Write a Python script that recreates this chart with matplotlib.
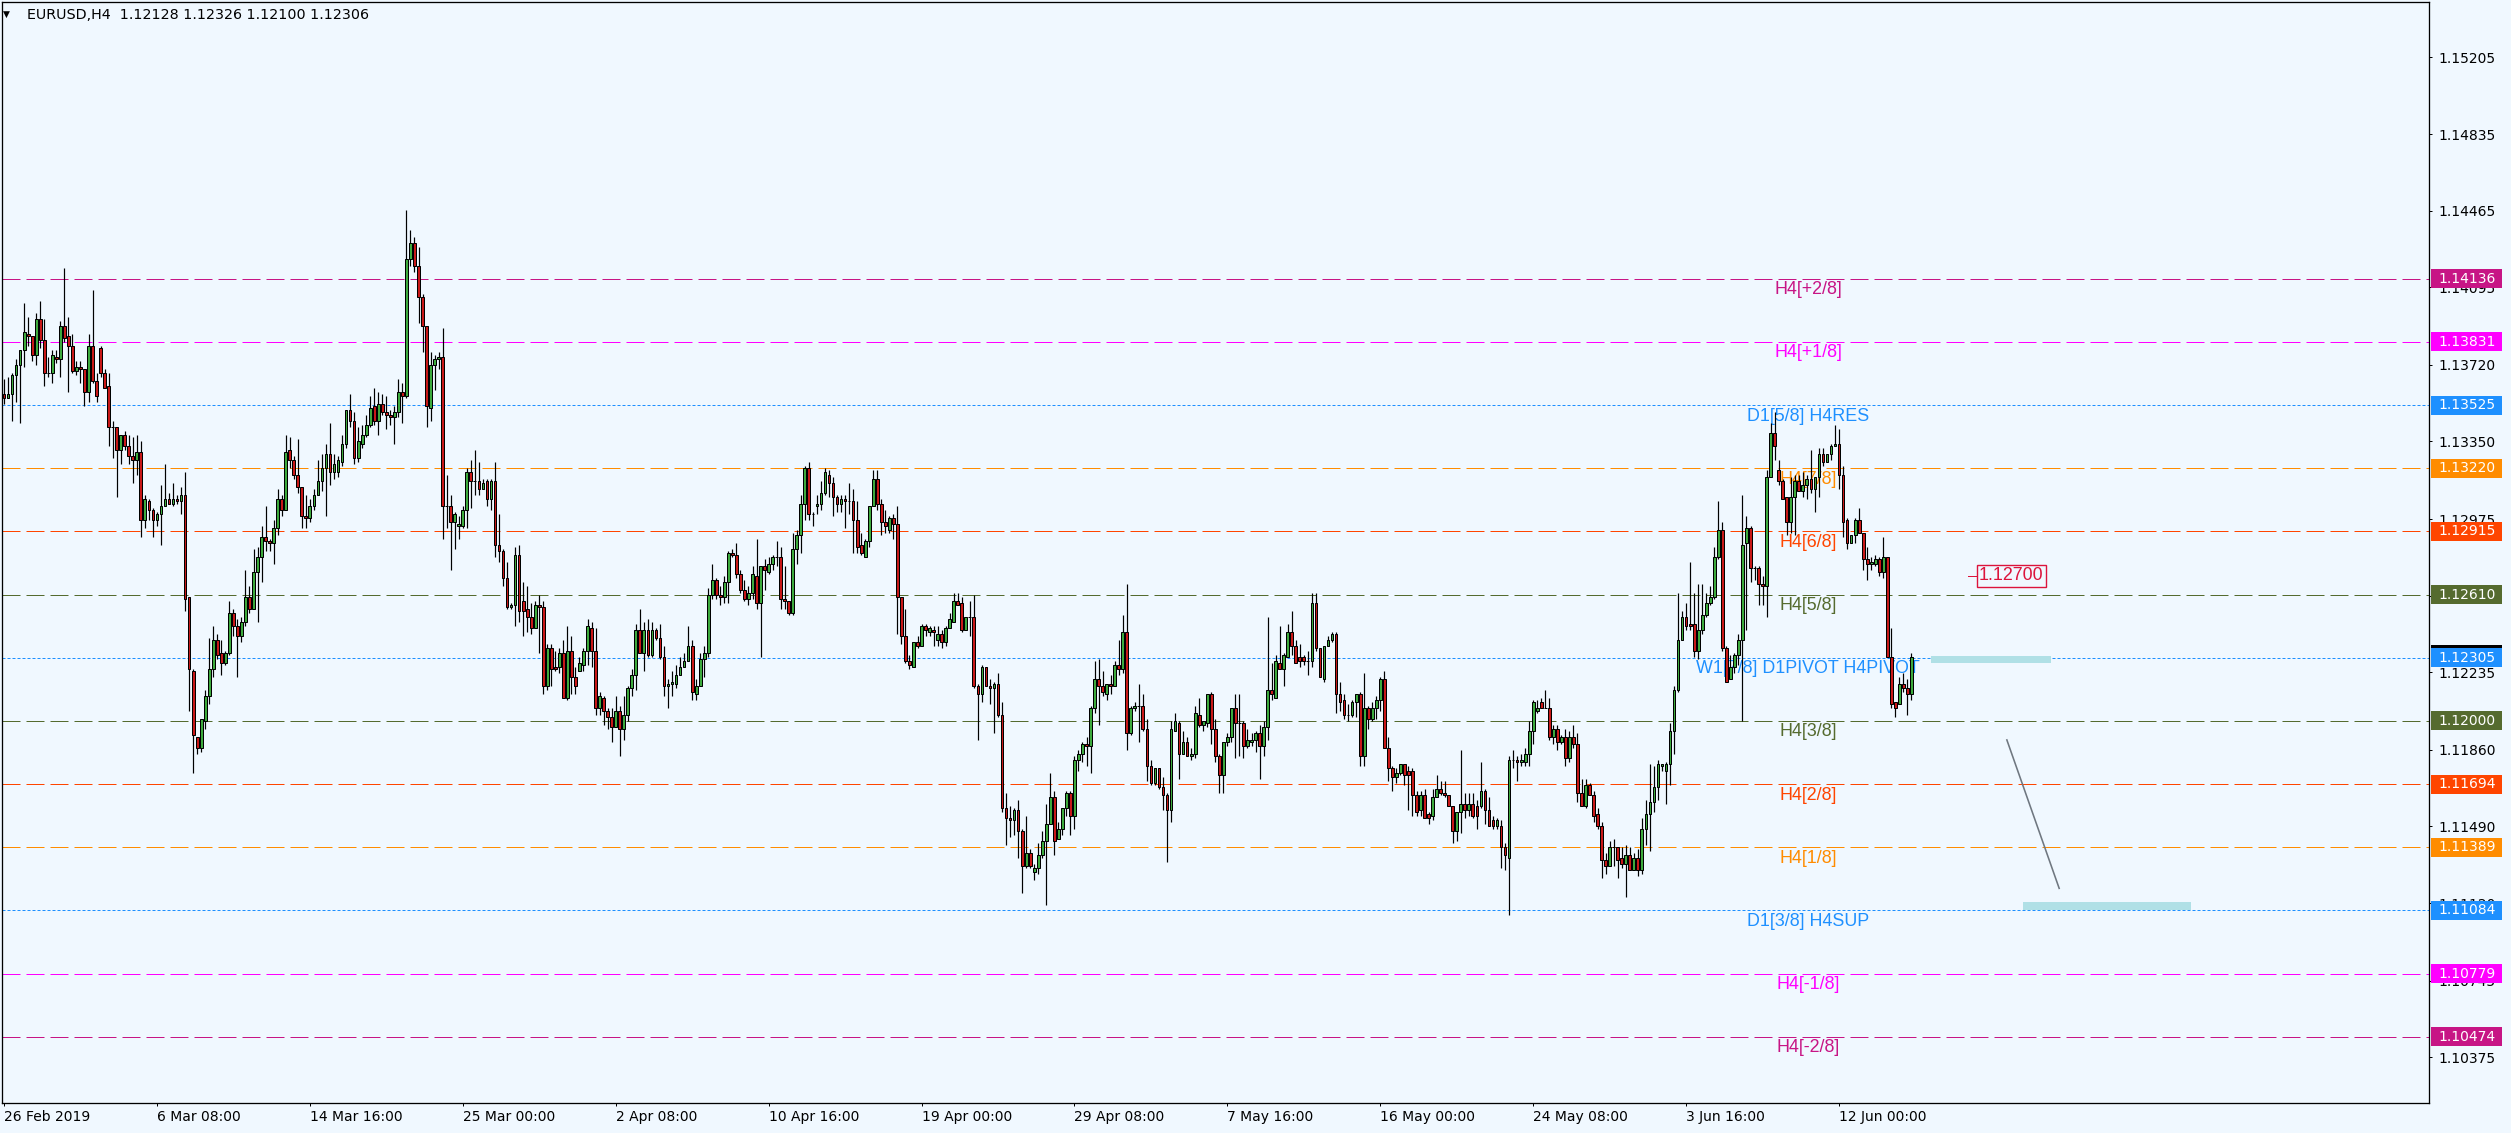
import numpy as np
import matplotlib.pyplot as plt
from matplotlib.patches import Rectangle
from matplotlib.transforms import blended_transform_factory

# H4 candles, values are pips above 1.1000
opens = [
    358, 356, 358, 367, 372, 379, 387, 386, 377, 394, 384, 368, 368, 376, 375, 391, 386, 381, 369, 371,
    370, 359, 381, 364, 380, 368, 362, 342, 342, 331, 338, 333, 328, 326, 330, 297, 306, 302, 297, 300,
    304, 307, 305, 307, 306, 309, 260, 224, 192, 187, 200, 212, 225, 239, 233, 228, 233, 252, 246, 241,
    248, 260, 254, 272, 279, 289,
    287, 286, 293, 307, 302, 331, 326, 319, 313, 299, 298, 304, 309,
    316, 322, 329, 320, 320, 325, 334, 350, 345, 327, 334, 338, 343, 352, 345, 353, 349, 348, 347, 349,
    359, 357, 423, 431, 420, 405, 391, 351, 372, 375, 376, 304, 304, 296, 294, 294, 302, 320, 316, 316,
    312, 316, 307, 316, 285, 282, 269, 255, 256, 280, 258, 254, 250, 245, 256, 255, 217, 235, 226, 226,
    233, 211, 234, 221, 224, 227, 234, 245, 234, 206, 211, 205, 202, 197, 205, 196, 203, 216, 222, 244,
    233, 244, 232, 244, 240, 231, 217, 218, 218, 222, 226, 229, 236,
    213, 217, 230, 233, 261, 268,
    261, 260, 267, 281, 280, 271, 263, 259, 262, 270, 257, 275, 272, 276, 279, 279, 259, 258, 252, 283,
    290, 305, 322, 300, 304, 305, 310, 319, 315, 308, 305, 307, 306, 306, 297, 285, 279, 287, 304, 317,
    305, 296, 292, 298, 295, 260, 241, 229, 226, 238, 236, 246, 243, 244, 239, 242, 238, 245, 248, 258,
    257, 244, 250, 250, 217, 213, 226, 217, 216, 218, 203, 158, 153, 152, 157, 147, 130, 136, 127, 129,
    135, 142, 150, 163, 143, 148, 158, 165, 154, 181, 184, 189, 188, 206, 220, 217, 213, 218, 217, 227,
    225, 243, 194, 206, 207, 207, 196, 178, 170, 177, 168, 164, 157, 195, 199, 184, 190, 183, 184, 203,
    198, 199, 213, 196, 183, 174, 190, 192, 206, 199, 199, 188, 190, 191, 194, 188, 197, 215, 211, 228,
    225, 231, 243, 236, 231, 231, 229, 229, 257, 235, 220, 236, 239, 242, 213, 210, 203, 203, 209, 213,
    183, 206, 201, 206, 210, 220, 187, 177, 173, 175, 179, 176, 176, 164, 157, 164, 155, 154, 163, 167,
    165, 164, 159, 147, 156, 160, 157, 160, 159, 159, 166, 157, 152, 149, 149, 139, 134, 181, 181, 180,
    180, 184, 195, 205, 209, 206, 206, 192, 196,
    190, 192, 182, 192, 189, 165, 159, 169, 164, 155,
    149, 133, 130, 139, 139, 134, 131, 135, 128, 134, 128, 148, 155, 161, 168, 178, 176, 179, 195, 215,
    239, 250, 247, 247, 234, 244, 251, 257, 260, 279, 292, 235, 220, 226, 232, 239, 286, 293, 274, 274,
    266, 265, 318, 339, 321, 316, 308, 296, 308, 316, 311, 314, 317, 312, 318, 329, 325, 329, 333, 334,
    319, 297, 286, 290, 297, 291, 278, 276, 276, 278, 272, 279, 231, 209, 208, 218, 216, 213,
]
highs = [
    365, 366, 368, 375, 379, 402, 395, 386, 397, 403, 394, 376, 379, 379, 393, 419, 395, 387, 374, 374,
    370, 387, 408, 368, 381, 370, 368, 345, 342, 338, 340, 338, 337, 338, 335, 309, 307, 303, 301, 314,
    324, 310, 315, 309, 313, 320, 260, 225, 192, 201, 215, 240, 246, 242, 239, 234, 258, 254, 249, 250,
    273, 265, 283, 284, 294, 304,
    288, 297, 312, 309, 338, 337, 328, 336, 313, 309, 307, 312, 326,
    329, 334, 344, 329, 328, 338, 350, 358, 349, 342, 343, 348, 357, 361, 359, 358, 357, 350, 352, 365,
    363, 447, 437, 434, 429, 406, 391, 378, 377, 378, 390, 319, 309, 301, 299, 304, 322, 326, 331, 325,
    317, 317, 317, 325, 300, 283, 277, 257, 284, 285, 267, 265, 257, 258, 261, 258, 237, 237, 234, 235,
    239, 246, 241, 226, 231, 235, 249, 248, 245, 214, 212, 206, 206, 212, 207, 212, 217, 225, 247, 254,
    248, 249, 248, 245, 247, 236, 220, 224, 227, 231, 233, 246, 239,
    220, 233, 236, 264, 276, 269,
    265, 270, 282, 283, 286, 273, 268, 265, 275, 288, 275, 278, 279, 280, 287, 284, 275, 258, 291, 292,
    309, 323, 325, 301, 309, 316, 322, 321, 318, 309, 309, 309, 315, 312, 306, 291, 288, 304, 321, 321,
    307, 302, 299, 300, 304, 260, 254, 232, 238, 241, 247, 247, 246, 246, 246, 244, 246, 252, 262, 262,
    260, 250, 258, 261, 218, 227, 226, 220, 219, 223, 209, 165, 159, 158, 162, 148, 154, 138, 131, 141,
    147, 160, 175, 166, 151, 158, 166, 166, 183, 186, 190, 192, 207, 229, 230, 224, 218, 222, 229, 239,
    251, 266, 207, 209, 218, 213, 201, 181, 177, 177, 173, 165, 200, 204, 200, 195, 192, 187, 207, 211,
    199, 213, 214, 201, 184, 190, 194, 206, 213, 213, 200, 196, 194, 195, 198, 200, 250, 228, 232, 246,
    233, 247, 253, 239, 237, 232, 234, 262, 262, 235, 236, 241, 243, 243, 219, 213, 208, 210, 213, 214,
    223, 207, 209, 212, 221, 224, 192, 178, 177, 179, 179, 178, 177, 166, 166, 167, 156, 167, 174, 171,
    171, 164, 159, 156, 186, 165, 165, 165, 162, 180, 167, 163, 154, 153, 152, 141, 183, 186, 183, 184,
    187, 200, 210, 210, 211, 215, 211, 198, 198,
    193, 196, 195, 198, 194, 172, 172, 170, 166, 158,
    151, 136, 142, 143, 139, 139, 140, 139, 136, 138, 153, 162, 179, 178, 181, 179, 180, 199, 217, 262,
    253, 257, 277, 262, 266, 266, 262, 265, 284, 306, 296, 236, 232, 233, 242, 309, 299, 294, 275, 275,
    270, 321, 344, 349, 326, 317, 308, 318, 319, 319, 320, 319, 331, 318, 332, 332, 329, 334, 343, 341,
    323, 298, 290, 298, 303, 291, 284, 279, 280, 279, 289, 279, 245, 209, 221, 223, 220, 233,
]
lows = [
    353, 356, 345, 354, 344, 371, 381, 374, 372, 380, 362, 366, 363, 373, 366, 383, 359, 368, 367, 363,
    352, 354, 363, 354, 366, 361, 333, 327, 308, 324, 331, 324, 315, 319, 289, 293, 297, 289, 294, 285,
    304, 305, 304, 305, 300, 253, 205, 175, 184, 185, 196, 208, 221, 230, 222, 227, 232, 241, 221, 238,
    246, 252, 254, 248, 267, 282,
    282, 276, 290, 299, 302, 322, 317, 310, 293, 293, 296, 302, 309,
    311, 299, 314, 317, 318, 323, 332, 342, 324, 325, 332, 337, 342, 343, 338, 348, 341, 343, 334, 347,
    344, 356, 420, 417, 392, 378, 342, 345, 360, 370, 288, 293, 273, 283, 288, 293, 293, 303, 309, 309,
    312, 304, 302, 279, 277, 265, 254, 254, 246, 248, 241, 243, 242, 245, 233, 213, 215, 217, 224, 223,
    211, 210, 213, 213, 224, 224, 227, 226, 203, 203, 198, 196, 190, 197, 183, 191, 200, 212, 215, 233,
    224, 231, 231, 239, 230, 212, 206, 212, 216, 222, 226, 229, 210,
    210, 217, 221, 231, 259, 259,
    256, 257, 257, 279, 269, 262, 258, 256, 259, 254, 231, 263, 271, 273, 275, 254, 254, 251, 251, 276,
    281, 297, 297, 294, 300, 302, 309, 308, 299, 301, 301, 293, 300, 281, 281, 280, 279, 284, 304, 302,
    290, 291, 291, 288, 242, 237, 228, 225, 226, 235, 236, 241, 241, 236, 236, 235, 236, 245, 248, 256,
    243, 244, 241, 216, 191, 209, 217, 208, 194, 202, 156, 140, 144, 145, 134, 117, 129, 129, 123, 126,
    134, 111, 150, 135, 143, 145, 154, 145, 148, 176, 180, 178, 175, 204, 198, 212, 210, 213, 217, 222,
    223, 186, 193, 205, 190, 195, 171, 169, 169, 167, 157, 132, 151, 195, 172, 184, 183, 181, 182, 197,
    195, 197, 189, 180, 165, 165, 188, 190, 182, 183, 182, 187, 188, 185, 172, 183, 191, 210, 211, 225,
    217, 231, 232, 228, 226, 227, 222, 226, 234, 221, 219, 236, 238, 204, 205, 201, 200, 202, 202, 178,
    178, 196, 200, 201, 205, 187, 171, 166, 170, 174, 169, 157, 154, 154, 154, 153, 150, 152, 163, 164,
    163, 159, 141, 142, 146, 153, 154, 153, 148, 158, 150, 149, 148, 148, 129, 128, 106, 177, 171, 178,
    178, 178, 189, 204, 206, 206, 191, 189, 186,
    189, 178, 180, 187, 161, 159, 158, 164, 151, 148,
    124, 126, 130, 130, 124, 129, 115, 128, 128, 125, 126, 140, 137, 156, 162, 176, 160, 169, 184, 214,
    239, 244, 244, 231, 230, 242, 250, 256, 259, 278, 234, 219, 220, 223, 227, 200, 244, 267, 268, 256,
    256, 250, 318, 326, 314, 307, 290, 291, 290, 311, 308, 307, 310, 301, 308, 323, 325, 326, 333, 312,
    289, 283, 286, 286, 291, 273, 268, 273, 275, 270, 269, 231, 206, 202, 208, 214, 203, 210,
]
closes = [
    356, 358, 367, 372, 379, 388, 386, 377, 394, 384, 368, 368, 377, 375, 391, 385, 381, 369, 371, 370,
    359, 381, 364, 357, 368, 361, 342, 342, 331, 338, 333, 328, 326, 330, 297, 307, 302, 297, 300, 304,
    307, 305, 307, 306, 309, 259, 225, 193, 187, 201, 212, 225, 239, 232, 228, 233, 252, 246, 241, 248,
    260, 254, 272, 279, 289, 287,
    286, 293, 307, 302, 330, 326, 319, 313, 299, 298, 304, 309, 316,
    322, 329, 320, 324, 326, 334, 350, 345, 327, 335, 338, 343, 351, 345, 353, 349, 348, 347, 349, 359,
    357, 423, 431, 420, 405, 391, 352, 372, 375, 376, 304, 304, 296, 300, 295, 302, 320, 316, 316, 312,
    315, 307, 316, 285, 282, 269, 255, 256, 280, 253, 253, 250, 245, 256, 255, 217, 235, 225, 225, 233,
    211, 234, 221, 217, 228, 234, 246, 234, 206, 212, 205, 202, 197, 205, 196, 203, 216, 222, 244, 233,
    244, 232, 244, 240, 231, 217, 218, 219, 222, 226, 229, 236, 214,
    217, 230, 233, 261, 268, 261,
    260, 267, 281, 280, 271, 263, 259, 262, 271, 257, 275, 273, 276, 279, 279, 259, 258, 252, 283, 290,
    305, 322, 300, 300, 305, 310, 320, 315, 308, 305, 307, 306, 306, 297, 284, 281, 287, 304, 317, 305,
    296, 294, 298, 295, 260, 241, 229, 227, 238, 236, 246, 244, 245, 243, 242, 238, 245, 249, 258, 256,
    244, 250, 250, 217, 213, 226, 217, 216, 218, 203, 158, 153, 152, 157, 147, 130, 136, 130, 129, 135,
    142, 150, 163, 142, 148, 158, 165, 154, 181, 184, 189, 188, 206, 220, 217, 214, 218, 217, 227, 225,
    243, 194, 206, 207, 207, 196, 178, 170, 177, 168, 164, 157, 196, 200, 184, 190, 183, 184, 204, 198,
    200, 213, 196, 183, 174, 190, 192, 206, 199, 199, 188, 191, 191, 194, 188, 197, 215, 213, 229, 225,
    232, 243, 236, 228, 229, 229, 229, 257, 235, 221, 236, 239, 242, 213, 209, 203, 203, 209, 213, 183,
    206, 201, 206, 210, 220, 187, 177, 173, 175, 179, 174, 174, 164, 156, 164, 153, 153, 163, 167, 165,
    164, 159, 147, 156, 160, 157, 160, 154, 154, 166, 157, 149, 149, 152, 139, 135, 181, 181, 180, 181,
    184, 195, 209, 206, 206, 206, 192, 196, 190,
    192, 182, 192, 189, 165, 159, 169, 164, 154, 149,
    133, 130, 139, 139, 133, 131, 135, 128, 134, 128, 148, 155, 161, 168, 179, 179, 179, 195, 215, 239,
    250, 246, 246, 234, 244, 251, 257, 260, 279, 292, 235, 219, 226, 232, 239, 285, 293, 274, 274, 266,
    265, 318, 339, 333, 316, 307, 296, 308, 316, 311, 314, 317, 312, 318, 329, 325, 329, 333, 334, 319,
    296, 286, 290, 297, 291, 278, 276, 277, 278, 272, 279, 231, 208, 206, 218, 216, 213, 231,
]

# murrey / pivot levels
level_prices = [1.14136, 1.13831, 1.13525, 1.13220, 1.12915, 1.12610, 1.12305,
                1.12000, 1.11694, 1.11389, 1.11084, 1.10779, 1.10474]
level_names = ['H4[+2/8]', 'H4[+1/8]', 'D1[5/8] H4RES', 'H4[7/8]', 'H4[6/8]', 'H4[5/8]',
               'W1[7/8] D1PIVOT H4PIVOT', 'H4[3/8]', 'H4[2/8]', 'H4[1/8]', 'D1[3/8] H4SUP',
               'H4[-1/8]', 'H4[-2/8]']
level_colors = ['#C71585', '#FF00FF', '#1E90FF', '#FF8C00', '#FF4500', '#556B2F', '#1E90FF',
                '#556B2F', '#FF4500', '#FF8C00', '#1E90FF', '#FF00FF', '#C71585']
level_dotted = [False, False, True, False, False, False, True, False, False, False, True, False, False]

y_ticks = [1.15205, 1.14835, 1.14465, 1.14095, 1.13720, 1.13350, 1.12975, 1.12605,
           1.12235, 1.11860, 1.11490, 1.11120, 1.10745, 1.10375]
x_tick_bars = [0, 38, 76, 114, 152, 190, 228, 266, 304, 342, 380, 418, 456]
x_tick_labels = ['26 Feb 2019', '6 Mar 08:00', '14 Mar 16:00', '25 Mar 00:00', '2 Apr 08:00',
                 '10 Apr 16:00', '19 Apr 00:00', '29 Apr 08:00', '7 May 16:00', '16 May 00:00',
                 '24 May 08:00', '3 Jun 16:00', '12 Jun 00:00']

# drawn objects to the right of the last bar (bar index, price)
pivot_zone = [478.9, 508.7, 1.12282, 1.12312]
target_zone = [501.7, 543.5, 1.11086, 1.11125]
trend_line = [[497.7, 510.7], [1.11908, 1.11191]]
price_mark = [498.8, 1.12700]
title = 'EURUSD,H4  1.12128 1.12326 1.12100 1.12306'

BG = '#F0F8FF'
PX = 0.72  # one pixel in points at dpi 100
plt.rcParams['font.family'] = ['DejaVu Sans']

W, H = 2511, 1133
fig = plt.figure(figsize=(W / 100, H / 100), dpi=100, facecolor=BG)
ax = fig.add_axes([2 / W, 30 / H, 2427 / W, 1101 / H])
ax.set_facecolor(BG)
ax.set_xlim(-0.5, 602.6)
ax.set_ylim(1.10154, 1.15473)

o = 1.1 + np.array(opens) / 1e4
h = 1.1 + np.array(highs) / 1e4
l = 1.1 + np.array(lows) / 1e4
c = 1.1 + np.array(closes) / 1e4
x = np.arange(len(c))

# levels and their captions (below candles)
for p, name, col, dot in zip(level_prices, level_names, level_colors, level_dotted):
    ls = (0, (3, 2)) if dot else (0, (18, 6))
    ax.axhline(p, color=col, lw=PX, linestyle=ls, zorder=2)
    ax.annotate(name, (448.3, p), xytext=(0, -11 * PX), textcoords='offset points',
                ha='center', va='center', color=col, fontsize=12.9,
                family='Liberation Sans', zorder=3)

# candles
hi = np.maximum(h, np.maximum(o, c))
lo = np.minimum(l, np.minimum(o, c))
ax.vlines(x, lo, hi, color='black', lw=1.2 * PX, zorder=4)
body_col = np.where(c > o, '#3DAA3D', np.where(c < o, '#C81818', 'black'))
ax.bar(x, np.abs(c - o), bottom=np.minimum(o, c), width=0.68, color=body_col,
       edgecolor='black', linewidth=PX, zorder=5)

# zones and trend line
ax.add_patch(Rectangle((pivot_zone[0], pivot_zone[2]), pivot_zone[1] - pivot_zone[0],
                       pivot_zone[3] - pivot_zone[2], fc='#B0E0E6', ec='none', zorder=3))
ax.add_patch(Rectangle((target_zone[0], target_zone[2]), target_zone[1] - target_zone[0],
                       target_zone[3] - target_zone[2], fc='#B0E0E6', ec='none', zorder=3))
ax.plot(trend_line[0], trend_line[1], color='#6F7780', lw=1.6 * PX, zorder=3)

# price label 1.12700
ax.plot([price_mark[0] - 10.7, price_mark[0] - 8.5], [price_mark[1]] * 2,
        color='#DC143C', lw=PX, zorder=3)
ax.text(price_mark[0], price_mark[1], f'{price_mark[1]:.5f}', color='#DC143C',
        fontsize=12.9, family='Liberation Sans', ha='center', va='center', zorder=6,
        bbox=dict(boxstyle='square,pad=0.12', fc=BG, ec='#DC143C', lw=1.0))

# axes styling
for s in ax.spines.values():
    s.set_color('black')
    s.set_linewidth(1.3 * PX)
ax.yaxis.tick_right()
ax.set_yticks(y_ticks)
ax.set_yticklabels([f'{v:.5f}' for v in y_ticks])
ax.tick_params(axis='y', length=3 * PX, width=PX, pad=6 * PX, labelsize=10, colors='black')
ax.set_xticks(x_tick_bars)
ax.set_xticklabels(x_tick_labels, ha='left')
ax.tick_params(axis='x', length=3 * PX, width=PX, pad=4 * PX, labelsize=10, colors='black')

# price boxes on the right scale
tr = blended_transform_factory(ax.transAxes, ax.transData)
box_h = 19 / 2.07 / 1e4
ax.add_patch(Rectangle((1.0008, 1.12320 - box_h / 2), 0.02925, box_h, transform=tr,
                       fc='black', ec='none', clip_on=False, zorder=6))
for p, col in zip(level_prices, level_colors):
    ax.add_patch(Rectangle((1.0008, p - box_h / 2), 0.02925, box_h, transform=tr,
                           fc=col, ec='none', clip_on=False, zorder=6.5))
    ax.text(1.0037, p, f'{p:.5f}', transform=tr, color='white', fontsize=10,
            ha='left', va='center', clip_on=False, zorder=7)

# title line
fig.text(6.5 / W, 1 - 14 / H, '\u25bc', fontsize=6.5, ha='center', va='center')
fig.text(27 / W, 1 - 15 / H, title, fontsize=10.3, ha='left', va='center')

fig.savefig('out.png', dpi=100, facecolor=BG)
